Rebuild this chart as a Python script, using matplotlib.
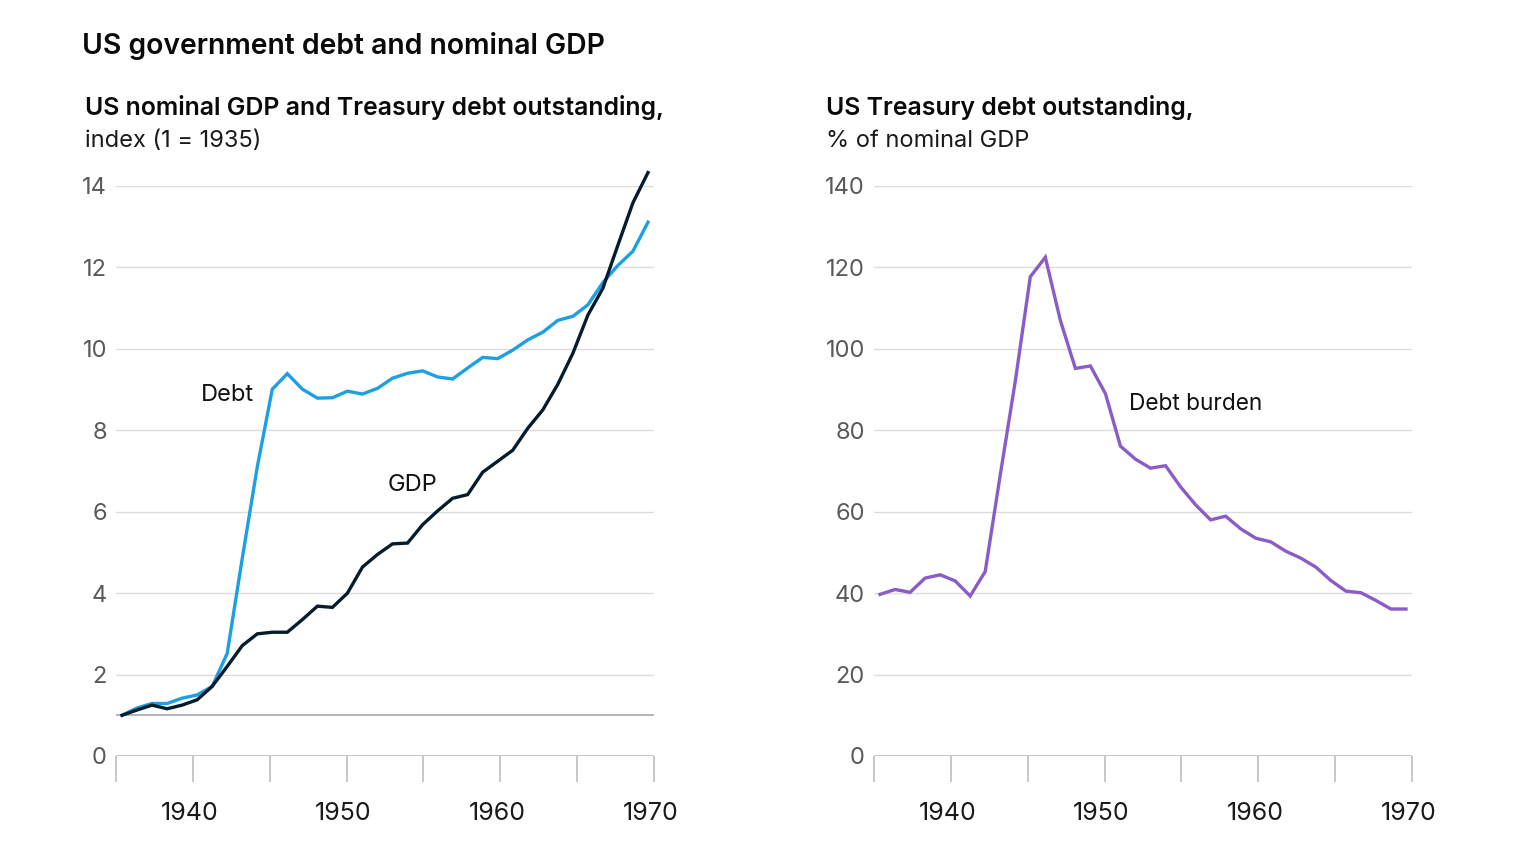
import numpy as np
import matplotlib
matplotlib.use("Agg")
import matplotlib.pyplot as plt
import matplotlib.transforms as mtransforms

plt.rcParams['font.family'] = ['Inter', 'DejaVu Sans']

# annual data, 1935-1970
years = list(range(1935, 1971))

debt_index = [1.00, 1.18, 1.29, 1.29, 1.42, 1.50, 1.71, 2.52, 4.85, 7.10,
              9.01, 9.39, 9.01, 8.79, 8.80, 8.96, 8.89, 9.03, 9.28, 9.40,
              9.46, 9.31, 9.26, 9.53, 9.79, 9.76, 9.97, 10.22, 10.41, 10.70,
              10.80, 11.08, 11.63, 12.05, 12.40, 13.11]

gdp_index = [1.00, 1.13, 1.25, 1.16, 1.25, 1.38, 1.71, 2.20, 2.71, 3.00,
             3.04, 3.04, 3.35, 3.68, 3.65, 4.00, 4.64, 4.95, 5.21, 5.23,
             5.68, 6.02, 6.33, 6.42, 6.97, 7.24, 7.51, 8.05, 8.50, 9.13,
             9.89, 10.83, 11.49, 12.55, 13.59, 14.33]

debt_pct_gdp = [39.7, 40.9, 40.2, 43.7, 44.5, 43.0, 39.3, 45.3, 69.0, 92.0,
                117.7, 122.5, 107.0, 95.2, 95.8, 89.0, 76.1, 72.9, 70.7, 71.3,
                66.1, 61.7, 58.0, 58.9, 55.8, 53.5, 52.6, 50.3, 48.6, 46.4,
                43.1, 40.5, 40.1, 38.2, 36.1, 36.1]

left_ticks = [0, 2, 4, 6, 8, 10, 12, 14]
right_ticks = [0, 20, 40, 60, 80, 100, 120, 140]
year_labels = ['1940', '1950', '1960', '1970']

BLUE = '#1ca0e3'
NAVY = '#051c2c'
PURPLE = '#8a5cc8'
GRID = '#dcdcdc'
AXIS = '#bdbdbd'

fig = plt.figure(figsize=(15.36, 8.64), dpi=100)

ax1 = fig.add_axes([116 / 1536, 108 / 864, 538 / 1536, 570 / 864])
ax2 = fig.add_axes([874 / 1536, 108 / 864, 538 / 1536, 570 / 864])

x0, x1 = 1934.6, 1970.4


def style_axis(ax, yticks):
    ax.set_xlim(x0, x1)
    ax.set_ylim(yticks[0], yticks[-1])
    for s in ax.spines.values():
        s.set_visible(False)
    ax.set_yticks(yticks)
    ax.set_yticklabels([str(t) for t in yticks])
    ax.tick_params(axis='y', length=0, pad=6.5, labelsize=17, labelcolor='#5a5a5a')
    for t in yticks[1:]:
        ax.axhline(t, color=GRID, lw=1, zorder=0)
    ax.axhline(yticks[0], color=AXIS, lw=1.2, zorder=1)
    # x ticks: evenly spaced marks below the axis
    pos = np.linspace(x0, x1, 8)
    ax.set_xticks(pos)
    ax.set_xticklabels(['', year_labels[0], '', year_labels[1], '', year_labels[2], '', year_labels[3]])
    ax.tick_params(axis='x', direction='out', length=18.7, width=1.2, color=AXIS,
                   pad=14.5, labelsize=18, labelcolor='#1a1a1a')
    off = mtransforms.ScaledTranslation(-3 / 100, 0, fig.dpi_scale_trans)
    for lab in ax.get_xticklabels():
        lab.set_transform(lab.get_transform() + off)


style_axis(ax1, left_ticks)
style_axis(ax2, right_ticks)

# index baseline at 1
ax1.axhline(1, color='#b0b0b0', lw=1.3, zorder=1)

ax1.plot(years, debt_index, color=BLUE, lw=2.4, clip_on=False, zorder=3,
         solid_joinstyle='miter')
ax1.plot(years, gdp_index, color=NAVY, lw=2.4, clip_on=False, zorder=4,
         solid_joinstyle='miter')
ax1.text(1942.0, 8.87, 'Debt', fontsize=17, color='#111111', ha='center', va='center')
ax1.text(1954.3, 6.66, 'GDP', fontsize=17, color='#111111', ha='center', va='center')

ax2.plot(years, debt_pct_gdp, color=PURPLE, lw=2.4, clip_on=False, zorder=3,
         solid_joinstyle='miter')
ax2.text(1951.6, 86.4, 'Debt burden', fontsize=16.3, color='#111111', ha='left', va='center')

# titles
fig.text(82 / 1536, 1 - 46 / 864, 'US government debt and nominal GDP',
         fontsize=20.4, fontweight='semibold', color='#0a0a0a', va='center')
fig.text(85 / 1536, 1 - 107 / 864, 'US nominal GDP and Treasury debt outstanding,',
         fontsize=17.9, fontweight='semibold', color='#0a0a0a', va='center')
fig.text(85 / 1536, 1 - 141 / 864, 'index (1 = 1935)',
         fontsize=17, color='#1a1a1a', va='center')
fig.text(826 / 1536, 1 - 107 / 864, 'US Treasury debt outstanding,',
         fontsize=17.9, fontweight='semibold', color='#0a0a0a', va='center')
fig.text(826 / 1536, 1 - 141 / 864, '% of nominal GDP',
         fontsize=17, color='#1a1a1a', va='center')

fig.savefig('out.png', dpi=100, facecolor='white')
